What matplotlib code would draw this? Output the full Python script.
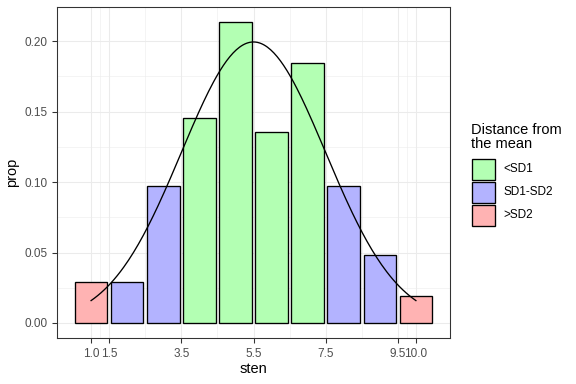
import numpy as np
import matplotlib
matplotlib.use("Agg")
import matplotlib.pyplot as plt
from matplotlib.patches import Rectangle
from matplotlib.ticker import FixedLocator

plt.rcParams['font.family'] = ['Liberation Sans', 'DejaVu Sans']

# data
sten = [1, 2, 3, 4, 5, 6, 7, 8, 9, 10]
prop = [0.0291, 0.0291, 0.0971, 0.1456, 0.2136, 0.1359, 0.1845, 0.0971, 0.0485, 0.0194]
group = [">SD2", "SD1-SD2", "SD1-SD2", "<SD1", "<SD1", "<SD1", "<SD1", "SD1-SD2", "SD1-SD2", ">SD2"]
groups = ["<SD1", "SD1-SD2", ">SD2"]
colours = {"<SD1": "#B3FFB3", "SD1-SD2": "#B3B3FF", ">SD2": "#FFB3B3"}
x_breaks = [1.0, 1.5, 3.5, 5.5, 7.5, 9.5, 10.0]
x_labels = ["1.0", "1.5", "3.5", "5.5", "7.5", "9.5", "10.0"]
y_breaks = [0.00, 0.05, 0.10, 0.15, 0.20]
mean_sten, sd_sten = 5.5, 2.0

fig = plt.figure(figsize=(6, 4), dpi=96)
ax = fig.add_axes([57 / 576, 46 / 384, 393 / 576, 331 / 384])

grid_c = "#EBEBEB"
for xb in x_breaks:
    ax.axvline(xb, color=grid_c, lw=0.8, zorder=0)
for xm in [1.25, 2.5, 4.5, 6.5, 8.5, 9.75]:
    ax.axvline(xm, color=grid_c, lw=0.4, zorder=0)
for yb in y_breaks:
    ax.axhline(yb, color=grid_c, lw=0.8, zorder=0)
for ym in [0.025, 0.075, 0.125, 0.175, 0.225]:
    ax.axhline(ym, color=grid_c, lw=0.4, zorder=0)

ax.bar(sten, prop, width=0.9, color=[colours[g] for g in group],
       edgecolor="black", linewidth=1.0, zorder=2)

xs = np.linspace(min(sten), max(sten), 200)
dens = np.exp(-0.5 * ((xs - mean_sten) / sd_sten) ** 2) / (sd_sten * np.sqrt(2 * np.pi))
ax.plot(xs, dens, color="black", lw=1.0, zorder=3)

ax.set_xlim(0.055, 10.945)
ax.set_ylim(-0.0107, 0.2243)
ax.xaxis.set_major_locator(FixedLocator(x_breaks))
ax.set_xticklabels(x_labels)
ax.set_yticks(y_breaks)
ax.set_yticklabels(["%.2f" % v for v in y_breaks])
ax.tick_params(colors="#333333", labelcolor="#4D4D4D", labelsize=8.8, length=3.7, width=0.8)
for s in ax.spines.values():
    s.set_color("#333333")
    s.set_linewidth(0.8)
ax.set_xlabel("sten", fontsize=11, labelpad=2)
ax.set_ylabel("prop", fontsize=11, labelpad=4)

# legend
fig.text(471 / 576, 1 - 137 / 384, "Distance from\nthe mean", fontsize=11,
         va="center", ha="left", linespacing=1.0)
key_h = 23 / 384
key_w = 23 / 576
top = 1 - 158 / 384
for i, g in enumerate(groups):
    y0 = top - (i + 1) * key_h
    fig.add_artist(Rectangle((472 / 576, y0 + 1 / 384), key_w, key_h - 2 / 384,
                             transform=fig.transFigure, facecolor=colours[g],
                             edgecolor="black", linewidth=1.0))
    fig.text(503 / 576, y0 + key_h / 2, g, fontsize=8.8, va="center", ha="left")

fig.savefig("out.png", dpi=96)
